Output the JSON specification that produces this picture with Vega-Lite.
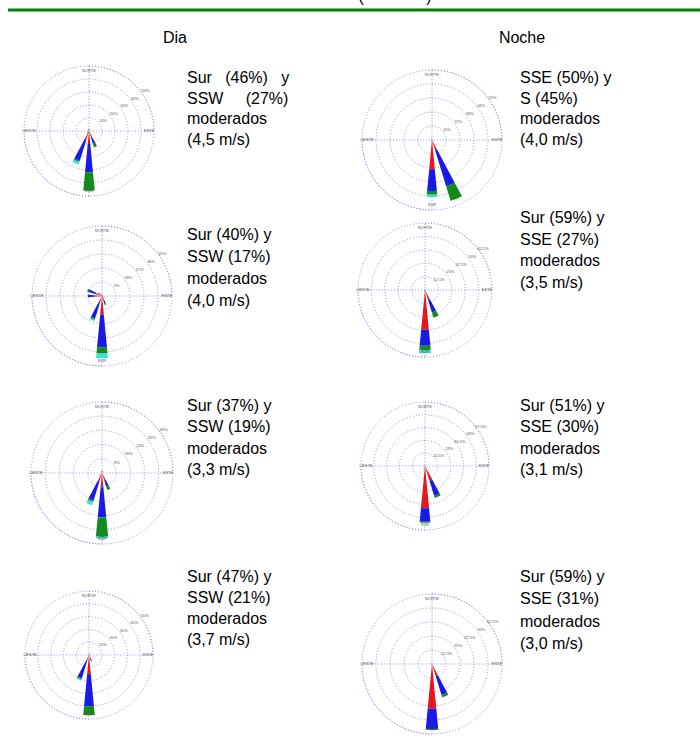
{
"$schema": "https://vega.github.io/schema/vega-lite/v6.json",
"padding": 0,
"background": "white",
"spacing": 0,
"config": {"view": {"stroke": null}, "font": "Liberation Sans", "concat": {"spacing": 0}, "text": {"font": "Liberation Sans", "color": "#000000"}},
"datasets": {
"petals": [
{"p":"D1","deg":180,"cls":0,"f":2},{"p":"D1","deg":180,"cls":1,"f":8},{"p":"D1","deg":180,"cls":2,"f":22},{"p":"D1","deg":180,"cls":3,"f":14},
{"p":"D1","deg":202.5,"cls":0,"f":2},{"p":"D1","deg":202.5,"cls":1,"f":5},{"p":"D1","deg":202.5,"cls":2,"f":17},{"p":"D1","deg":202.5,"cls":3,"f":1},{"p":"D1","deg":202.5,"cls":4,"f":2},
{"p":"D1","deg":157.5,"cls":0,"f":2},{"p":"D1","deg":157.5,"cls":1,"f":4},{"p":"D1","deg":157.5,"cls":2,"f":4},{"p":"D1","deg":157.5,"cls":3,"f":3},
{"p":"D1","deg":0,"cls":0,"f":2},{"p":"D1","deg":337.5,"cls":0,"f":1.5},{"p":"D1","deg":22.5,"cls":0,"f":1},{"p":"D1","deg":315,"cls":0,"f":1},{"p":"D1","deg":225,"cls":0,"f":1},{"p":"D1","deg":225,"cls":1,"f":1},
{"p":"N1","deg":180,"cls":0,"f":2},{"p":"N1","deg":180,"cls":1,"f":21},{"p":"N1","deg":180,"cls":2,"f":17},{"p":"N1","deg":180,"cls":3,"f":3},{"p":"N1","deg":180,"cls":4,"f":2},
{"p":"N1","deg":157.5,"cls":0,"f":2},{"p":"N1","deg":157.5,"cls":1,"f":6},{"p":"N1","deg":157.5,"cls":2,"f":30},{"p":"N1","deg":157.5,"cls":3,"f":12},
{"p":"N1","deg":0,"cls":0,"f":1.5},{"p":"N1","deg":202.5,"cls":0,"f":1.5},{"p":"N1","deg":337.5,"cls":0,"f":1},
{"p":"D2","deg":180,"cls":0,"f":2},{"p":"D2","deg":180,"cls":1,"f":10},{"p":"D2","deg":180,"cls":2,"f":21},{"p":"D2","deg":180,"cls":3,"f":4},{"p":"D2","deg":180,"cls":4,"f":3},
{"p":"D2","deg":202.5,"cls":0,"f":1},{"p":"D2","deg":202.5,"cls":1,"f":4},{"p":"D2","deg":202.5,"cls":2,"f":10},{"p":"D2","deg":202.5,"cls":3,"f":1},{"p":"D2","deg":202.5,"cls":4,"f":1},
{"p":"D2","deg":157.5,"cls":0,"f":1},{"p":"D2","deg":157.5,"cls":1,"f":2},{"p":"D2","deg":157.5,"cls":2,"f":2},{"p":"D2","deg":157.5,"cls":3,"f":1},
{"p":"D2","deg":270,"cls":0,"f":1},{"p":"D2","deg":270,"cls":1,"f":3},{"p":"D2","deg":270,"cls":2,"f":5},
{"p":"D2","deg":292.5,"cls":0,"f":1},{"p":"D2","deg":292.5,"cls":1,"f":3},{"p":"D2","deg":292.5,"cls":2,"f":5},{"p":"D2","deg":292.5,"cls":3,"f":1},
{"p":"D2","deg":315,"cls":0,"f":1},{"p":"D2","deg":315,"cls":1,"f":1},{"p":"D2","deg":315,"cls":2,"f":1},
{"p":"D2","deg":0,"cls":0,"f":1.5},{"p":"D2","deg":22.5,"cls":0,"f":1},{"p":"D2","deg":135,"cls":0,"f":1},{"p":"D2","deg":135,"cls":1,"f":1},
{"p":"N2","deg":180,"cls":0,"f":2},{"p":"N2","deg":180,"cls":1,"f":35},{"p":"N2","deg":180,"cls":2,"f":15},{"p":"N2","deg":180,"cls":3,"f":4},{"p":"N2","deg":180,"cls":4,"f":3},
{"p":"N2","deg":157.5,"cls":0,"f":2},{"p":"N2","deg":157.5,"cls":1,"f":8},{"p":"N2","deg":157.5,"cls":2,"f":12},{"p":"N2","deg":157.5,"cls":3,"f":5},
{"p":"N2","deg":0,"cls":0,"f":1.5},{"p":"N2","deg":202.5,"cls":0,"f":1.5},{"p":"N2","deg":337.5,"cls":0,"f":1},
{"p":"D3","deg":180,"cls":0,"f":2},{"p":"D3","deg":180,"cls":1,"f":6},{"p":"D3","deg":180,"cls":2,"f":17},{"p":"D3","deg":180,"cls":3,"f":11},{"p":"D3","deg":180,"cls":4,"f":1},
{"p":"D3","deg":202.5,"cls":0,"f":1},{"p":"D3","deg":202.5,"cls":1,"f":4},{"p":"D3","deg":202.5,"cls":2,"f":11},{"p":"D3","deg":202.5,"cls":3,"f":1},{"p":"D3","deg":202.5,"cls":4,"f":2},
{"p":"D3","deg":157.5,"cls":0,"f":1},{"p":"D3","deg":157.5,"cls":1,"f":3},{"p":"D3","deg":157.5,"cls":2,"f":4},{"p":"D3","deg":157.5,"cls":3,"f":2},
{"p":"D3","deg":0,"cls":0,"f":1.5},{"p":"D3","deg":337.5,"cls":0,"f":1},{"p":"D3","deg":315,"cls":0,"f":1},{"p":"D3","deg":22.5,"cls":0,"f":1},{"p":"D3","deg":225,"cls":0,"f":1},{"p":"D3","deg":225,"cls":1,"f":1},
{"p":"N3","deg":180,"cls":0,"f":2},{"p":"N3","deg":180,"cls":1,"f":36},{"p":"N3","deg":180,"cls":2,"f":12},{"p":"N3","deg":180,"cls":3,"f":1},
{"p":"N3","deg":157.5,"cls":0,"f":2},{"p":"N3","deg":157.5,"cls":1,"f":12},{"p":"N3","deg":157.5,"cls":2,"f":14},{"p":"N3","deg":157.5,"cls":3,"f":2},
{"p":"N3","deg":202.5,"cls":0,"f":1},{"p":"N3","deg":202.5,"cls":1,"f":2},{"p":"N3","deg":0,"cls":0,"f":1.5},{"p":"N3","deg":337.5,"cls":0,"f":1},
{"p":"D4","deg":180,"cls":0,"f":2},{"p":"D4","deg":180,"cls":1,"f":13},{"p":"D4","deg":180,"cls":2,"f":25},{"p":"D4","deg":180,"cls":3,"f":7},
{"p":"D4","deg":202.5,"cls":0,"f":1},{"p":"D4","deg":202.5,"cls":1,"f":4},{"p":"D4","deg":202.5,"cls":2,"f":14},{"p":"D4","deg":202.5,"cls":3,"f":1},{"p":"D4","deg":202.5,"cls":4,"f":1},
{"p":"D4","deg":157.5,"cls":0,"f":1},{"p":"D4","deg":157.5,"cls":1,"f":2},{"p":"D4","deg":157.5,"cls":2,"f":2},
{"p":"D4","deg":0,"cls":0,"f":1.5},{"p":"D4","deg":337.5,"cls":0,"f":1},{"p":"D4","deg":22.5,"cls":0,"f":1},{"p":"D4","deg":225,"cls":0,"f":1},{"p":"D4","deg":135,"cls":0,"f":1},
{"p":"N4","deg":180,"cls":0,"f":2},{"p":"N4","deg":180,"cls":1,"f":38},{"p":"N4","deg":180,"cls":2,"f":18},{"p":"N4","deg":180,"cls":3,"f":1},
{"p":"N4","deg":157.5,"cls":0,"f":2},{"p":"N4","deg":157.5,"cls":1,"f":9},{"p":"N4","deg":157.5,"cls":2,"f":18},{"p":"N4","deg":157.5,"cls":3,"f":2},
{"p":"N4","deg":0,"cls":0,"f":1.5},{"p":"N4","deg":202.5,"cls":0,"f":1.5},{"p":"N4","deg":337.5,"cls":0,"f":1}
],
"rings": [
{"p":"D1","ring":10},{"p":"D1","ring":20},{"p":"D1","ring":30},{"p":"D1","ring":40},{"p":"D1","ring":50},
{"p":"N1","ring":11},{"p":"N1","ring":22},{"p":"N1","ring":33},{"p":"N1","ring":44},{"p":"N1","ring":55},
{"p":"D2","ring":9},{"p":"D2","ring":18},{"p":"D2","ring":27},{"p":"D2","ring":36},{"p":"D2","ring":45},
{"p":"N2","ring":12.5},{"p":"N2","ring":25},{"p":"N2","ring":37.5},{"p":"N2","ring":50},{"p":"N2","ring":62.5},
{"p":"D3","ring":8},{"p":"D3","ring":16},{"p":"D3","ring":24},{"p":"D3","ring":32},{"p":"D3","ring":40},
{"p":"N3","ring":11.5},{"p":"N3","ring":23},{"p":"N3","ring":34.5},{"p":"N3","ring":46},{"p":"N3","ring":57.5},
{"p":"D4","ring":10},{"p":"D4","ring":20},{"p":"D4","ring":30},{"p":"D4","ring":40},{"p":"D4","ring":50},
{"p":"N4","ring":12.5},{"p":"N4","ring":25},{"p":"N4","ring":37.5},{"p":"N4","ring":50},{"p":"N4","ring":62.5}
],
"cardinal": [{"lab":"NORTE","deg":0},{"lab":"ESTE","deg":90},{"lab":"SUR","deg":180},{"lab":"OESTE","deg":270}],
"texts": [
{"p":"D1","line":1,"txt":"Sur\u00a0\u00a0 (46%)\u00a0\u00a0 y"},{"p":"D1","line":2,"txt":"SSW\u00a0\u00a0\u00a0\u00a0 (27%)"},{"p":"D1","line":3,"txt":"moderados"},{"p":"D1","line":4,"txt":"(4,5 m/s)"},
{"p":"N1","line":1,"txt":"SSE (50%) y"},{"p":"N1","line":2,"txt":"S (45%)"},{"p":"N1","line":3,"txt":"moderados"},{"p":"N1","line":4,"txt":"(4,0 m/s)"},
{"p":"D2","line":1,"txt":"Sur (40%) y"},{"p":"D2","line":2,"txt":"SSW (17%)"},{"p":"D2","line":3,"txt":"moderados"},{"p":"D2","line":4,"txt":"(4,0 m/s)"},
{"p":"N2","line":1,"txt":"Sur (59%) y"},{"p":"N2","line":2,"txt":"SSE (27%)"},{"p":"N2","line":3,"txt":"moderados"},{"p":"N2","line":4,"txt":"(3,5 m/s)"},
{"p":"D3","line":1,"txt":"Sur (37%) y"},{"p":"D3","line":2,"txt":"SSW (19%)"},{"p":"D3","line":3,"txt":"moderados"},{"p":"D3","line":4,"txt":"(3,3 m/s)"},
{"p":"N3","line":1,"txt":"Sur (51%) y"},{"p":"N3","line":2,"txt":"SSE (30%)"},{"p":"N3","line":3,"txt":"moderados"},{"p":"N3","line":4,"txt":"(3,1 m/s)"},
{"p":"D4","line":1,"txt":"Sur (47%) y"},{"p":"D4","line":2,"txt":"SSW (21%)"},{"p":"D4","line":3,"txt":"moderados"},{"p":"D4","line":4,"txt":"(3,7 m/s)"},
{"p":"N4","line":1,"txt":"Sur (59%) y"},{"p":"N4","line":2,"txt":"SSE (31%)"},{"p":"N4","line":3,"txt":"moderados"},{"p":"N4","line":4,"txt":"(3,0 m/s)"}
]
},
"vconcat": [
{"width": 700, "height": 48, "layer": [
 {"data": {"values": [{"id": 1}]}, "mark": {"type": "rule", "color": "#008000", "strokeWidth": 3}, "encoding": {"x": {"value": 8}, "x2": {"value": 700}, "y": {"value": 10}}},
 {"data": {"values": [{"lab": "Dia"}, {"lab": "Noche"}]}, "mark": {"type": "text", "fontSize": 16, "y": 38, "baseline": "middle"}, "encoding": {"x": {"field": "lab", "type": "nominal", "axis": null, "scale": {"type": "point", "domain": ["Dia", "Noche"], "range": [175, 522], "padding": 0}}, "text": {"field": "lab"}}},
 {"data": {"values": [{"t": "(\u00a0\u00a0\u00a0\u00a0\u00a0\u00a0\u00a0\u00a0\u00a0\u00a0\u00a0\u00a0\u00a0\u00a0)"}]}, "mark": {"type": "text", "clip": true, "fontSize": 16, "x": 395, "y": 2, "baseline": "alphabetic"}, "encoding": {"text": {"field": "t"}}}
]},
{"spacing": 0, "hconcat": [
 {"spacing": 0, "vconcat": [
  {"width": 178, "height": 166, "layer": [
   {"data": {"name": "rings"}, "transform": [{"filter": "datum.p=='D1'"}], "mark": {"type": "arc", "theta": 0, "theta2": 6.2832, "filled": false, "stroke": "#8f8fe6", "strokeWidth": 1, "strokeDash": [1, 2]}, "encoding": {"radius": {"field": "ring", "type": "quantitative", "stack": null, "scale": {"type": "linear", "zero": true, "nice": false, "domain": [0, 50], "range": [0, 65]}}}},
   {"data": {"name": "rings"}, "transform": [{"filter": "datum.p=='D1' && datum.ring==50"}], "mark": {"type": "arc", "theta": 0, "theta2": 1.5708, "filled": false, "stroke": "#8f8fe6", "strokeWidth": 1, "strokeDash": [1, 2]}, "encoding": {"radius": {"field": "ring", "type": "quantitative", "stack": null}}},
   {"data": {"name": "rings"}, "transform": [{"filter": "datum.p=='D1' && datum.ring==50"}], "mark": {"type": "arc", "theta": 3.1416, "theta2": 4.7124, "filled": false, "stroke": "#8f8fe6", "strokeWidth": 1, "strokeDash": [1, 2]}, "encoding": {"radius": {"field": "ring", "type": "quantitative", "stack": null}}},
   {"data": {"name": "petals"}, "transform": [{"filter": "datum.p=='D1'"}, {"stack": "f", "groupby": ["deg"], "sort": [{"field": "cls", "order": "ascending"}], "as": ["r0", "r1"]}, {"calculate": "datum.deg-5.5", "as": "a0"}, {"calculate": "datum.deg+5.5", "as": "a1"}], "mark": {"type": "arc"}, "encoding": {"theta": {"field": "a0", "type": "quantitative", "stack": null, "scale": {"domain": [0, 360], "range": [0, 6.283185]}}, "theta2": {"field": "a1"}, "radius": {"field": "r1", "type": "quantitative", "stack": null}, "radius2": {"field": "r0"}, "color": {"field": "cls", "type": "ordinal", "legend": null, "scale": {"domain": [0, 1, 2, 3, 4], "range": ["#3b2424", "#e5161d", "#1a1ae6", "#138a1c", "#3de0e0"]}}}},
   {"data": {"name": "cardinal"}, "mark": {"type": "text", "fontSize": 4, "color": "#555555", "radiusOffset": -5}, "encoding": {"theta": {"field": "deg", "type": "quantitative", "stack": null}, "radius": {"datum": 50}, "text": {"field": "lab"}}},
   {"data": {"name": "rings"}, "transform": [{"filter": "datum.p=='D1'"}, {"calculate": "datum.ring+'%'", "as": "lab"}], "mark": {"type": "text", "fontSize": 4, "color": "#555555", "radiusOffset": 4}, "encoding": {"theta": {"datum": 55}, "radius": {"field": "ring", "type": "quantitative", "stack": null}, "text": {"field": "lab"}}}
  ]},
  {"spacing": 0, "hconcat": [
   {"width": 17, "height": 1, "data": {"values": []}, "mark": "point"},
   {"width": 170, "height": 164, "layer": [
    {"data": {"name": "rings"}, "transform": [{"filter": "datum.p=='D2'"}], "mark": {"type": "arc", "theta": 0, "theta2": 6.2832, "filled": false, "stroke": "#8f8fe6", "strokeWidth": 1, "strokeDash": [1, 2]}, "encoding": {"radius": {"field": "ring", "type": "quantitative", "stack": null, "scale": {"type": "linear", "zero": true, "nice": false, "domain": [0, 45], "range": [0, 70]}}}},
    {"data": {"name": "rings"}, "transform": [{"filter": "datum.p=='D2' && datum.ring==45"}], "mark": {"type": "arc", "theta": 0, "theta2": 1.5708, "filled": false, "stroke": "#8f8fe6", "strokeWidth": 1, "strokeDash": [1, 2]}, "encoding": {"radius": {"field": "ring", "type": "quantitative", "stack": null}}},
    {"data": {"name": "rings"}, "transform": [{"filter": "datum.p=='D2' && datum.ring==45"}], "mark": {"type": "arc", "theta": 3.1416, "theta2": 4.7124, "filled": false, "stroke": "#8f8fe6", "strokeWidth": 1, "strokeDash": [1, 2]}, "encoding": {"radius": {"field": "ring", "type": "quantitative", "stack": null}}},
    {"data": {"name": "petals"}, "transform": [{"filter": "datum.p=='D2'"}, {"stack": "f", "groupby": ["deg"], "sort": [{"field": "cls", "order": "ascending"}], "as": ["r0", "r1"]}, {"calculate": "datum.deg-5.5", "as": "a0"}, {"calculate": "datum.deg+5.5", "as": "a1"}], "mark": {"type": "arc"}, "encoding": {"theta": {"field": "a0", "type": "quantitative", "stack": null, "scale": {"domain": [0, 360], "range": [0, 6.283185]}}, "theta2": {"field": "a1"}, "radius": {"field": "r1", "type": "quantitative", "stack": null}, "radius2": {"field": "r0"}, "color": {"field": "cls", "type": "ordinal", "legend": null, "scale": {"domain": [0, 1, 2, 3, 4], "range": ["#3b2424", "#e5161d", "#1a1ae6", "#138a1c", "#3de0e0"]}}}},
    {"data": {"name": "cardinal"}, "mark": {"type": "text", "fontSize": 4, "color": "#555555", "radiusOffset": -5}, "encoding": {"theta": {"field": "deg", "type": "quantitative", "stack": null}, "radius": {"datum": 45}, "text": {"field": "lab"}}},
    {"data": {"name": "rings"}, "transform": [{"filter": "datum.p=='D2'"}, {"calculate": "datum.ring+'%'", "as": "lab"}], "mark": {"type": "text", "fontSize": 4, "color": "#555555", "radiusOffset": 4}, "encoding": {"theta": {"datum": 55}, "radius": {"field": "ring", "type": "quantitative", "stack": null}, "text": {"field": "lab"}}}
   ]}
  ]},
  {"spacing": 0, "hconcat": [
   {"width": 17, "height": 1, "data": {"values": []}, "mark": "point"},
   {"width": 170, "height": 190, "layer": [
    {"data": {"name": "rings"}, "transform": [{"filter": "datum.p=='D3'"}], "mark": {"type": "arc", "theta": 0, "theta2": 6.2832, "filled": false, "stroke": "#8f8fe6", "strokeWidth": 1, "strokeDash": [1, 2]}, "encoding": {"radius": {"field": "ring", "type": "quantitative", "stack": null, "scale": {"type": "linear", "zero": true, "nice": false, "domain": [0, 40], "range": [0, 71]}}}},
    {"data": {"name": "rings"}, "transform": [{"filter": "datum.p=='D3' && datum.ring==40"}], "mark": {"type": "arc", "theta": 0, "theta2": 1.5708, "filled": false, "stroke": "#8f8fe6", "strokeWidth": 1, "strokeDash": [1, 2]}, "encoding": {"radius": {"field": "ring", "type": "quantitative", "stack": null}}},
    {"data": {"name": "rings"}, "transform": [{"filter": "datum.p=='D3' && datum.ring==40"}], "mark": {"type": "arc", "theta": 3.1416, "theta2": 4.7124, "filled": false, "stroke": "#8f8fe6", "strokeWidth": 1, "strokeDash": [1, 2]}, "encoding": {"radius": {"field": "ring", "type": "quantitative", "stack": null}}},
    {"data": {"name": "petals"}, "transform": [{"filter": "datum.p=='D3'"}, {"stack": "f", "groupby": ["deg"], "sort": [{"field": "cls", "order": "ascending"}], "as": ["r0", "r1"]}, {"calculate": "datum.deg-5.5", "as": "a0"}, {"calculate": "datum.deg+5.5", "as": "a1"}], "mark": {"type": "arc"}, "encoding": {"theta": {"field": "a0", "type": "quantitative", "stack": null, "scale": {"domain": [0, 360], "range": [0, 6.283185]}}, "theta2": {"field": "a1"}, "radius": {"field": "r1", "type": "quantitative", "stack": null}, "radius2": {"field": "r0"}, "color": {"field": "cls", "type": "ordinal", "legend": null, "scale": {"domain": [0, 1, 2, 3, 4], "range": ["#3b2424", "#e5161d", "#1a1ae6", "#138a1c", "#3de0e0"]}}}},
    {"data": {"name": "cardinal"}, "mark": {"type": "text", "fontSize": 4, "color": "#555555", "radiusOffset": -5}, "encoding": {"theta": {"field": "deg", "type": "quantitative", "stack": null}, "radius": {"datum": 40}, "text": {"field": "lab"}}},
    {"data": {"name": "rings"}, "transform": [{"filter": "datum.p=='D3'"}, {"calculate": "datum.ring+'%'", "as": "lab"}], "mark": {"type": "text", "fontSize": 4, "color": "#555555", "radiusOffset": 4}, "encoding": {"theta": {"datum": 55}, "radius": {"field": "ring", "type": "quantitative", "stack": null}, "text": {"field": "lab"}}}
   ]}
  ]},
  {"width": 178, "height": 174, "layer": [
   {"data": {"name": "rings"}, "transform": [{"filter": "datum.p=='D4'"}], "mark": {"type": "arc", "theta": 0, "theta2": 6.2832, "filled": false, "stroke": "#8f8fe6", "strokeWidth": 1, "strokeDash": [1, 2]}, "encoding": {"radius": {"field": "ring", "type": "quantitative", "stack": null, "scale": {"type": "linear", "zero": true, "nice": false, "domain": [0, 50], "range": [0, 64]}}}},
   {"data": {"name": "rings"}, "transform": [{"filter": "datum.p=='D4' && datum.ring==50"}], "mark": {"type": "arc", "theta": 0, "theta2": 1.5708, "filled": false, "stroke": "#8f8fe6", "strokeWidth": 1, "strokeDash": [1, 2]}, "encoding": {"radius": {"field": "ring", "type": "quantitative", "stack": null}}},
   {"data": {"name": "rings"}, "transform": [{"filter": "datum.p=='D4' && datum.ring==50"}], "mark": {"type": "arc", "theta": 3.1416, "theta2": 4.7124, "filled": false, "stroke": "#8f8fe6", "strokeWidth": 1, "strokeDash": [1, 2]}, "encoding": {"radius": {"field": "ring", "type": "quantitative", "stack": null}}},
   {"data": {"name": "petals"}, "transform": [{"filter": "datum.p=='D4'"}, {"stack": "f", "groupby": ["deg"], "sort": [{"field": "cls", "order": "ascending"}], "as": ["r0", "r1"]}, {"calculate": "datum.deg-5.5", "as": "a0"}, {"calculate": "datum.deg+5.5", "as": "a1"}], "mark": {"type": "arc"}, "encoding": {"theta": {"field": "a0", "type": "quantitative", "stack": null, "scale": {"domain": [0, 360], "range": [0, 6.283185]}}, "theta2": {"field": "a1"}, "radius": {"field": "r1", "type": "quantitative", "stack": null}, "radius2": {"field": "r0"}, "color": {"field": "cls", "type": "ordinal", "legend": null, "scale": {"domain": [0, 1, 2, 3, 4], "range": ["#3b2424", "#e5161d", "#1a1ae6", "#138a1c", "#3de0e0"]}}}},
   {"data": {"name": "cardinal"}, "mark": {"type": "text", "fontSize": 4, "color": "#555555", "radiusOffset": -5}, "encoding": {"theta": {"field": "deg", "type": "quantitative", "stack": null}, "radius": {"datum": 50}, "text": {"field": "lab"}}},
   {"data": {"name": "rings"}, "transform": [{"filter": "datum.p=='D4'"}, {"calculate": "datum.ring+'%'", "as": "lab"}], "mark": {"type": "text", "fontSize": 4, "color": "#555555", "radiusOffset": 4}, "encoding": {"theta": {"datum": 55}, "radius": {"field": "ring", "type": "quantitative", "stack": null}, "text": {"field": "lab"}}}
  ]}
 ]},
 {"spacing": 0, "vconcat": [
  {"width": 168, "height": 166, "data": {"name": "texts"}, "transform": [{"filter": "datum.p=='D1'"}], "mark": {"type": "text", "align": "left", "baseline": "middle", "x": 0, "fontSize": 16}, "encoding": {"y": {"field": "line", "type": "quantitative", "axis": null, "scale": {"domain": [1, 4], "range": [30, 92]}}, "text": {"field": "txt"}}},
  {"width": 168, "height": 164, "data": {"name": "texts"}, "transform": [{"filter": "datum.p=='D2'"}], "mark": {"type": "text", "align": "left", "baseline": "middle", "x": 0, "fontSize": 16}, "encoding": {"y": {"field": "line", "type": "quantitative", "axis": null, "scale": {"domain": [1, 4], "range": [21, 87]}}, "text": {"field": "txt"}}},
  {"width": 168, "height": 190, "data": {"name": "texts"}, "transform": [{"filter": "datum.p=='D3'"}], "mark": {"type": "text", "align": "left", "baseline": "middle", "x": 0, "fontSize": 16}, "encoding": {"y": {"field": "line", "type": "quantitative", "axis": null, "scale": {"domain": [1, 4], "range": [28, 92]}}, "text": {"field": "txt"}}},
  {"width": 168, "height": 174, "data": {"name": "texts"}, "transform": [{"filter": "datum.p=='D4'"}], "mark": {"type": "text", "align": "left", "baseline": "middle", "x": 0, "fontSize": 16}, "encoding": {"y": {"field": "line", "type": "quantitative", "axis": null, "scale": {"domain": [1, 4], "range": [9, 72]}}, "text": {"field": "txt"}}}
 ]},
 {"spacing": 0, "vconcat": [
  {"width": 1, "height": 12, "data": {"values": []}, "mark": "point"},
  {"width": 154, "height": 160, "layer": [
   {"data": {"name": "rings"}, "transform": [{"filter": "datum.p=='N1'"}], "mark": {"type": "arc", "theta": 0, "theta2": 6.2832, "filled": false, "stroke": "#8f8fe6", "strokeWidth": 1, "strokeDash": [1, 2]}, "encoding": {"radius": {"field": "ring", "type": "quantitative", "stack": null, "scale": {"type": "linear", "zero": true, "nice": false, "domain": [0, 55], "range": [0, 70]}}}},
   {"data": {"name": "rings"}, "transform": [{"filter": "datum.p=='N1' && datum.ring==55"}], "mark": {"type": "arc", "theta": 0, "theta2": 1.5708, "filled": false, "stroke": "#8f8fe6", "strokeWidth": 1, "strokeDash": [1, 2]}, "encoding": {"radius": {"field": "ring", "type": "quantitative", "stack": null}}},
   {"data": {"name": "rings"}, "transform": [{"filter": "datum.p=='N1' && datum.ring==55"}], "mark": {"type": "arc", "theta": 3.1416, "theta2": 4.7124, "filled": false, "stroke": "#8f8fe6", "strokeWidth": 1, "strokeDash": [1, 2]}, "encoding": {"radius": {"field": "ring", "type": "quantitative", "stack": null}}},
   {"data": {"name": "petals"}, "transform": [{"filter": "datum.p=='N1'"}, {"stack": "f", "groupby": ["deg"], "sort": [{"field": "cls", "order": "ascending"}], "as": ["r0", "r1"]}, {"calculate": "datum.deg-5.5", "as": "a0"}, {"calculate": "datum.deg+5.5", "as": "a1"}], "mark": {"type": "arc"}, "encoding": {"theta": {"field": "a0", "type": "quantitative", "stack": null, "scale": {"domain": [0, 360], "range": [0, 6.283185]}}, "theta2": {"field": "a1"}, "radius": {"field": "r1", "type": "quantitative", "stack": null}, "radius2": {"field": "r0"}, "color": {"field": "cls", "type": "ordinal", "legend": null, "scale": {"domain": [0, 1, 2, 3, 4], "range": ["#3b2424", "#e5161d", "#1a1ae6", "#138a1c", "#3de0e0"]}}}},
   {"data": {"name": "cardinal"}, "mark": {"type": "text", "fontSize": 4, "color": "#555555", "radiusOffset": -5}, "encoding": {"theta": {"field": "deg", "type": "quantitative", "stack": null}, "radius": {"datum": 55}, "text": {"field": "lab"}}},
   {"data": {"name": "rings"}, "transform": [{"filter": "datum.p=='N1'"}, {"calculate": "datum.ring+'%'", "as": "lab"}], "mark": {"type": "text", "fontSize": 4, "color": "#555555", "radiusOffset": 4}, "encoding": {"theta": {"datum": 55}, "radius": {"field": "ring", "type": "quantitative", "stack": null}, "text": {"field": "lab"}}}
  ]},
  {"width": 140, "height": 140, "layer": [
   {"data": {"name": "rings"}, "transform": [{"filter": "datum.p=='N2'"}], "mark": {"type": "arc", "theta": 0, "theta2": 6.2832, "filled": false, "stroke": "#8f8fe6", "strokeWidth": 1, "strokeDash": [1, 2]}, "encoding": {"radius": {"field": "ring", "type": "quantitative", "stack": null, "scale": {"type": "linear", "zero": true, "nice": false, "domain": [0, 62.5], "range": [0, 67]}}}},
   {"data": {"name": "rings"}, "transform": [{"filter": "datum.p=='N2' && datum.ring==62.5"}], "mark": {"type": "arc", "theta": 0, "theta2": 1.5708, "filled": false, "stroke": "#8f8fe6", "strokeWidth": 1, "strokeDash": [1, 2]}, "encoding": {"radius": {"field": "ring", "type": "quantitative", "stack": null}}},
   {"data": {"name": "rings"}, "transform": [{"filter": "datum.p=='N2' && datum.ring==62.5"}], "mark": {"type": "arc", "theta": 3.1416, "theta2": 4.7124, "filled": false, "stroke": "#8f8fe6", "strokeWidth": 1, "strokeDash": [1, 2]}, "encoding": {"radius": {"field": "ring", "type": "quantitative", "stack": null}}},
   {"data": {"name": "petals"}, "transform": [{"filter": "datum.p=='N2'"}, {"stack": "f", "groupby": ["deg"], "sort": [{"field": "cls", "order": "ascending"}], "as": ["r0", "r1"]}, {"calculate": "datum.deg-5.5", "as": "a0"}, {"calculate": "datum.deg+5.5", "as": "a1"}], "mark": {"type": "arc"}, "encoding": {"theta": {"field": "a0", "type": "quantitative", "stack": null, "scale": {"domain": [0, 360], "range": [0, 6.283185]}}, "theta2": {"field": "a1"}, "radius": {"field": "r1", "type": "quantitative", "stack": null}, "radius2": {"field": "r0"}, "color": {"field": "cls", "type": "ordinal", "legend": null, "scale": {"domain": [0, 1, 2, 3, 4], "range": ["#3b2424", "#e5161d", "#1a1ae6", "#138a1c", "#3de0e0"]}}}},
   {"data": {"name": "cardinal"}, "mark": {"type": "text", "fontSize": 4, "color": "#555555", "radiusOffset": -5}, "encoding": {"theta": {"field": "deg", "type": "quantitative", "stack": null}, "radius": {"datum": 62.5}, "text": {"field": "lab"}}},
   {"data": {"name": "rings"}, "transform": [{"filter": "datum.p=='N2'"}, {"calculate": "datum.ring+'%'", "as": "lab"}], "mark": {"type": "text", "fontSize": 4, "color": "#555555", "radiusOffset": 4}, "encoding": {"theta": {"datum": 55}, "radius": {"field": "ring", "type": "quantitative", "stack": null}, "text": {"field": "lab"}}}
  ]},
  {"width": 140, "height": 212, "layer": [
   {"data": {"name": "rings"}, "transform": [{"filter": "datum.p=='N3'"}], "mark": {"type": "arc", "theta": 0, "theta2": 6.2832, "filled": false, "stroke": "#8f8fe6", "strokeWidth": 1, "strokeDash": [1, 2]}, "encoding": {"radius": {"field": "ring", "type": "quantitative", "stack": null, "scale": {"type": "linear", "zero": true, "nice": false, "domain": [0, 57.5], "range": [0, 64]}}}},
   {"data": {"name": "rings"}, "transform": [{"filter": "datum.p=='N3' && datum.ring==57.5"}], "mark": {"type": "arc", "theta": 0, "theta2": 1.5708, "filled": false, "stroke": "#8f8fe6", "strokeWidth": 1, "strokeDash": [1, 2]}, "encoding": {"radius": {"field": "ring", "type": "quantitative", "stack": null}}},
   {"data": {"name": "rings"}, "transform": [{"filter": "datum.p=='N3' && datum.ring==57.5"}], "mark": {"type": "arc", "theta": 3.1416, "theta2": 4.7124, "filled": false, "stroke": "#8f8fe6", "strokeWidth": 1, "strokeDash": [1, 2]}, "encoding": {"radius": {"field": "ring", "type": "quantitative", "stack": null}}},
   {"data": {"name": "petals"}, "transform": [{"filter": "datum.p=='N3'"}, {"stack": "f", "groupby": ["deg"], "sort": [{"field": "cls", "order": "ascending"}], "as": ["r0", "r1"]}, {"calculate": "datum.deg-5.5", "as": "a0"}, {"calculate": "datum.deg+5.5", "as": "a1"}], "mark": {"type": "arc"}, "encoding": {"theta": {"field": "a0", "type": "quantitative", "stack": null, "scale": {"domain": [0, 360], "range": [0, 6.283185]}}, "theta2": {"field": "a1"}, "radius": {"field": "r1", "type": "quantitative", "stack": null}, "radius2": {"field": "r0"}, "color": {"field": "cls", "type": "ordinal", "legend": null, "scale": {"domain": [0, 1, 2, 3, 4], "range": ["#3b2424", "#e5161d", "#1a1ae6", "#138a1c", "#3de0e0"]}}}},
   {"data": {"name": "cardinal"}, "mark": {"type": "text", "fontSize": 4, "color": "#555555", "radiusOffset": -5}, "encoding": {"theta": {"field": "deg", "type": "quantitative", "stack": null}, "radius": {"datum": 57.5}, "text": {"field": "lab"}}},
   {"data": {"name": "rings"}, "transform": [{"filter": "datum.p=='N3'"}, {"calculate": "datum.ring+'%'", "as": "lab"}], "mark": {"type": "text", "fontSize": 4, "color": "#555555", "radiusOffset": 4}, "encoding": {"theta": {"datum": 55}, "radius": {"field": "ring", "type": "quantitative", "stack": null}, "text": {"field": "lab"}}}
  ]},
  {"width": 1, "height": 20, "data": {"values": []}, "mark": "point"},
  {"width": 154, "height": 142, "layer": [
   {"data": {"name": "rings"}, "transform": [{"filter": "datum.p=='N4'"}], "mark": {"type": "arc", "theta": 0, "theta2": 6.2832, "filled": false, "stroke": "#8f8fe6", "strokeWidth": 1, "strokeDash": [1, 2]}, "encoding": {"radius": {"field": "ring", "type": "quantitative", "stack": null, "scale": {"type": "linear", "zero": true, "nice": false, "domain": [0, 62.5], "range": [0, 70]}}}},
   {"data": {"name": "rings"}, "transform": [{"filter": "datum.p=='N4' && datum.ring==62.5"}], "mark": {"type": "arc", "theta": 0, "theta2": 1.5708, "filled": false, "stroke": "#8f8fe6", "strokeWidth": 1, "strokeDash": [1, 2]}, "encoding": {"radius": {"field": "ring", "type": "quantitative", "stack": null}}},
   {"data": {"name": "rings"}, "transform": [{"filter": "datum.p=='N4' && datum.ring==62.5"}], "mark": {"type": "arc", "theta": 3.1416, "theta2": 4.7124, "filled": false, "stroke": "#8f8fe6", "strokeWidth": 1, "strokeDash": [1, 2]}, "encoding": {"radius": {"field": "ring", "type": "quantitative", "stack": null}}},
   {"data": {"name": "petals"}, "transform": [{"filter": "datum.p=='N4'"}, {"stack": "f", "groupby": ["deg"], "sort": [{"field": "cls", "order": "ascending"}], "as": ["r0", "r1"]}, {"calculate": "datum.deg-5.5", "as": "a0"}, {"calculate": "datum.deg+5.5", "as": "a1"}], "mark": {"type": "arc"}, "encoding": {"theta": {"field": "a0", "type": "quantitative", "stack": null, "scale": {"domain": [0, 360], "range": [0, 6.283185]}}, "theta2": {"field": "a1"}, "radius": {"field": "r1", "type": "quantitative", "stack": null}, "radius2": {"field": "r0"}, "color": {"field": "cls", "type": "ordinal", "legend": null, "scale": {"domain": [0, 1, 2, 3, 4], "range": ["#3b2424", "#e5161d", "#1a1ae6", "#138a1c", "#3de0e0"]}}}},
   {"data": {"name": "cardinal"}, "mark": {"type": "text", "fontSize": 4, "color": "#555555", "radiusOffset": -5}, "encoding": {"theta": {"field": "deg", "type": "quantitative", "stack": null}, "radius": {"datum": 62.5}, "text": {"field": "lab"}}},
   {"data": {"name": "rings"}, "transform": [{"filter": "datum.p=='N4'"}, {"calculate": "datum.ring+'%'", "as": "lab"}], "mark": {"type": "text", "fontSize": 4, "color": "#555555", "radiusOffset": 4}, "encoding": {"theta": {"datum": 55}, "radius": {"field": "ring", "type": "quantitative", "stack": null}, "text": {"field": "lab"}}}
  ]}
 ]},
 {"width": 11, "height": 1, "data": {"values": []}, "mark": "point"},
 {"spacing": 0, "vconcat": [
  {"width": 180, "height": 160, "data": {"name": "texts"}, "transform": [{"filter": "datum.p=='N1'"}], "mark": {"type": "text", "align": "left", "baseline": "middle", "x": 0, "fontSize": 16}, "encoding": {"y": {"field": "line", "type": "quantitative", "axis": null, "scale": {"domain": [1, 4], "range": [30, 92]}}, "text": {"field": "txt"}}},
  {"width": 180, "height": 190, "data": {"name": "texts"}, "transform": [{"filter": "datum.p=='N2'"}], "mark": {"type": "text", "align": "left", "baseline": "middle", "x": 0, "fontSize": 16}, "encoding": {"y": {"field": "line", "type": "quantitative", "axis": null, "scale": {"domain": [1, 4], "range": [10, 75]}}, "text": {"field": "txt"}}},
  {"width": 180, "height": 170, "data": {"name": "texts"}, "transform": [{"filter": "datum.p=='N3'"}], "mark": {"type": "text", "align": "left", "baseline": "middle", "x": 0, "fontSize": 16}, "encoding": {"y": {"field": "line", "type": "quantitative", "axis": null, "scale": {"domain": [1, 4], "range": [8, 72]}}, "text": {"field": "txt"}}},
  {"width": 180, "height": 174, "data": {"name": "texts"}, "transform": [{"filter": "datum.p=='N4'"}], "mark": {"type": "text", "align": "left", "baseline": "middle", "x": 0, "fontSize": 16}, "encoding": {"y": {"field": "line", "type": "quantitative", "axis": null, "scale": {"domain": [1, 4], "range": [9, 76]}}, "text": {"field": "txt"}}}
 ]}
]}
]
}
